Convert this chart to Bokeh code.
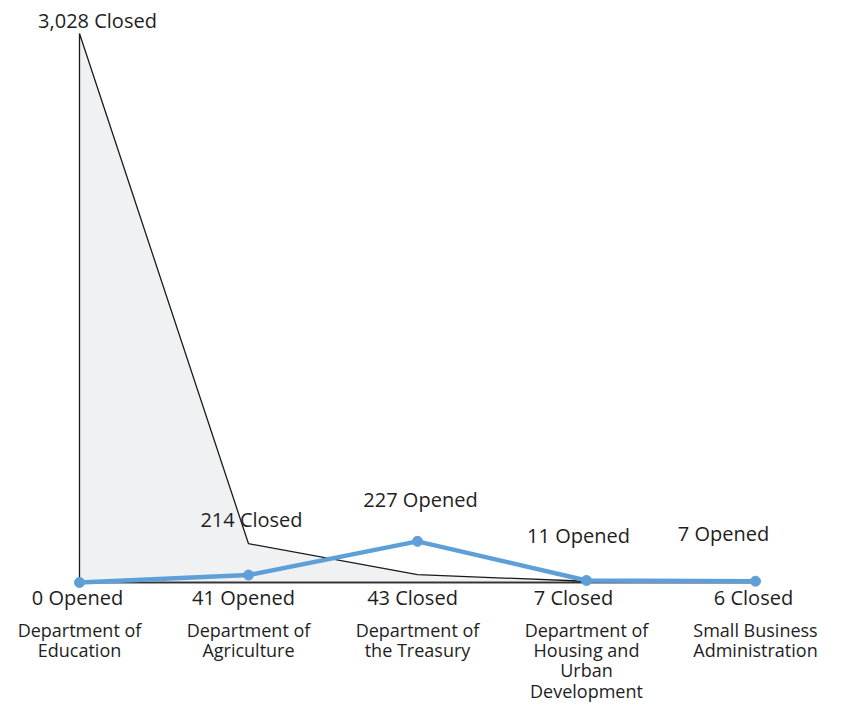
from bokeh.plotting import figure
from bokeh.models import Range1d, ColumnDataSource
from bokeh.core.properties import value
from bokeh.embed import file_html
from bokeh.resources import INLINE

categories = ["Department of\nEducation", "Department of\nAgriculture", "Department of\nthe Treasury",
              "Department of\nHousing and\nUrban\nDevelopment", "Small Business\nAdministration"]
closed = [3028, 214, 43, 7, 6]
opened = [0, 41, 227, 11, 7]

FONT = value("Open Sans")
TXT = "#1e1e1e"
W, H = 835, 707
x0_px, dx_px = 79, 169          # pixel position of first category and spacing
base_px, top_px = 582, 33       # pixel positions of 0 and max value
ppu = (base_px - top_px) / max(closed)

p = figure(width=W, height=H, output_backend="svg", toolbar_location=None,
           x_range=Range1d(-x0_px / dx_px, (W - x0_px) / dx_px),
           y_range=Range1d(-(H - base_px) / ppu, base_px / ppu),
           min_border=0, outline_line_color=None)
p.axis.visible = False
p.grid.visible = False
p.background_fill_color = "white"

xs = list(range(len(categories)))

# closed area
px = [0] + xs + [xs[-1]]
py = [0] + closed + [0]
p.patch(px, py, fill_color="#f0f1f3", line_color="#1a1a1a", line_width=1.3)
p.line([xs[0], xs[-1]], [0, 0], line_color="#333333", line_width=1.5)

# opened line
p.line(xs, opened, line_color="#5f9fd8", line_width=4.5)
p.scatter(xs, opened, size=10, fill_color="#5f9fd8", line_color="#5f9fd8")

# value labels: larger value above, smaller below
up_text, up_val, low_text = [], [], []
for c, o in zip(closed, opened):
    if c >= o:
        up_text.append(f"{c:,} Closed"); up_val.append(c); low_text.append(f"{o:,} Opened")
    else:
        up_text.append(f"{o:,} Opened"); up_val.append(o); low_text.append(f"{c:,} Closed")

up_xoff = [18, 3, 3, -8, -32]
up_yoff = [-13, -24, -42, -45, -48]
src_up = ColumnDataSource(dict(x=xs, y=up_val, t=up_text, xo=up_xoff, yo=up_yoff))
p.text(x="x", y="y", text="t", x_offset="xo", y_offset="yo", source=src_up,
       text_font=FONT, text_font_size="20px", text_color=TXT,
       text_align="center", text_baseline="middle")

low_xoff = [-2, -5, -5, -13, -2]
src_low = ColumnDataSource(dict(x=xs, y=[0] * len(xs), t=low_text, xo=low_xoff))
p.text(x="x", y="y", text="t", x_offset="xo", y_offset=15, source=src_low,
       text_font=FONT, text_font_size="20px", text_color=TXT,
       text_align="center", text_baseline="middle")

src_cat = ColumnDataSource(dict(x=xs, y=[0] * len(xs), t=categories))
p.text(x="x", y="y", text="t", y_offset=35, source=src_cat,
       text_font=FONT, text_font_size="18px", text_color=TXT,
       text_align="center", text_baseline="top", text_line_height=0.85)

open("out.html", "w").write(file_html(p, INLINE))
